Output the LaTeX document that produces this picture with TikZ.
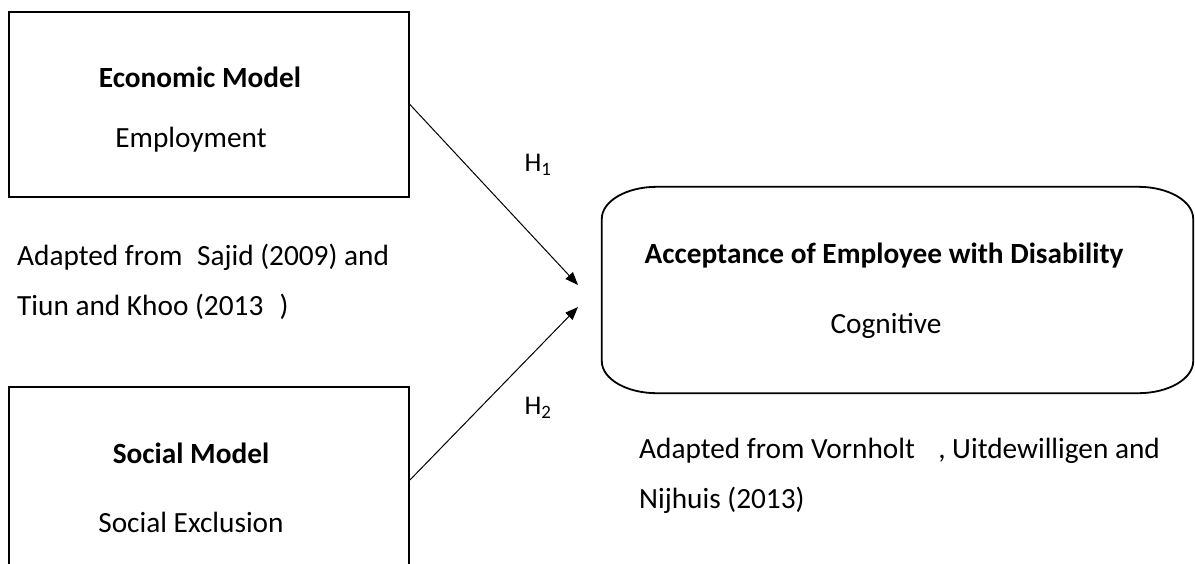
\documentclass[tikz,border=0pt]{standalone}
\usepackage{fontspec}
\setmainfont{Carlito}
\usetikzlibrary{positioning,arrows.meta,calc}

\begin{document}
\begin{tikzpicture}[
    x=1pt, y=-1pt,
    font=\fontsize{29.3}{50}\selectfont,
    modelbox/.style={draw, line width=1.8pt, minimum width=400pt, minimum height=185pt, inner sep=0pt},
    label/.style={inner sep=0pt},
    hyp/.style={inner sep=0pt, font=\fontsize{27}{32}\selectfont},
    source/.style={inner sep=0pt, align=left, anchor=west},
    arrow/.style={-{Triangle[length=13pt,width=10pt]}, line width=1pt}
]
\useasboundingbox (0,0) rectangle (1195,563);

% Boxes for the two models
\node[modelbox] (econ) at (209,104.5) {};
\node[modelbox, minimum height=186pt] (social) at (209,480) {};
\node[minimum width=591pt, minimum height=206pt, inner sep=0pt] (accept) at (897.5,290) {};

% Outline of the outcome box
\draw[line width=1.8pt] ([xshift=55pt]accept.north west) -- ([xshift=-55pt]accept.north east)
    arc[start angle=90, end angle=0, x radius=55pt, y radius=32pt]
    -- ([yshift=32pt]accept.south east)
    arc[start angle=0, end angle=-90, x radius=55pt, y radius=32pt]
    -- ([xshift=55pt]accept.south west)
    arc[start angle=-90, end angle=-180, x radius=55pt, y radius=32pt]
    -- ([yshift=-32pt]accept.north west)
    arc[start angle=180, end angle=90, x radius=55pt, y radius=32pt] -- cycle;

% Texts in the boxes
\node[label] (econtitle) at (200,77) {\textbf{Economic Model}};
\node[label] (econsub) at (191,140) {Employment};
\node[label] (socialtitle) at (191,453) {\textbf{Social Model}};
\node[label] (socialsub) at (191,522) {Social Exclusion};
\node[label] (accepttitle) at (884,256) {\textbf{Acceptance of Employee with Disability}};
\node[label] (acceptsub) at (886,326) {Cognitive};

% Sources
\node[source] (src1) at (17,282) {Adapted from\hspace{0.5em}Sajid (2009) and\\Tiun and Khoo (2013\hspace{0.55em})};
\node[source] (src2) at (639,476) {Adapted from Vornholt\hspace{0.8em}, Uitdewilligen and\\Nijhuis (2013)};

% Hypotheses
\node[hyp] (h1) at (538,165) {H\textsubscript{1}};
\node[hyp] (h2) at (538,408) {H\textsubscript{2}};
\coordinate (h1end) at (578,285);
\coordinate (h2end) at (578,307);
\draw[arrow] (econ.east) -- (h1end);
\draw[arrow] (social.east) -- (h2end);

\end{tikzpicture}
\end{document}
